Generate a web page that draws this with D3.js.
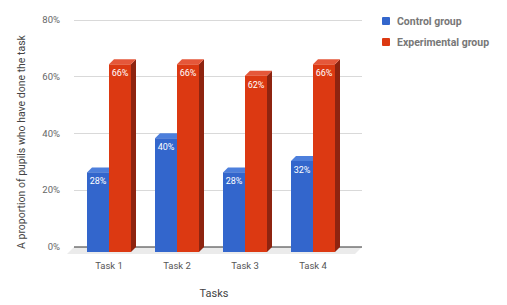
<!DOCTYPE html>
<meta charset="utf-8">
<style>
body { margin: 0; background: #fff; }
text { font-family: Roboto, "Noto Sans", sans-serif; }
.grid { stroke: #d9d9d9; stroke-width: 1px; }
.tick-y { fill: #666; font-size: 9.5px; }
.tick-x { fill: #555; font-size: 9.5px; }
.val { fill: #fff; font-size: 9px; }
.legend { fill: #777; font-size: 10.5px; font-weight: bold; }
.title { fill: #444; font-size: 11px; }
.ytitle { fill: #444; font-size: 10.5px; }
</style>
<body>
<script src="https://cdn.jsdelivr.net/npm/d3@7/dist/d3.min.js"></script>
<script>

var width = 507,
    height = 305;

var tasks = ["Task 1", "Task 2", "Task 3", "Task 4"];
var groups = ["Control group", "Experimental group"];
var control = [0.28, 0.40, 0.28, 0.32];
var experimental = [0.66, 0.66, 0.62, 0.66];
var yTicks = [0, 0.2, 0.4, 0.6, 0.8];

var colors = {
  "Control group": {front: "#3366cc", top: "#4d7fdc", side: "#264d99"},
  "Experimental group": {front: "#dc3912", top: "#e5573a", side: "#8e2410"}
};

// depth of the fake 3d bars (front face is shifted down-left of the back plane)
var dx = 5, dy = 5;

var svg = d3.select("body").append("svg")
    .attr("width", width)
    .attr("height", height);

// y on the back plane
var y = d3.scaleLinear()
    .domain([0, 0.8])
    .range([247, 19.5]);

// x of the front face
var x = d3.scaleBand()
    .domain(tasks)
    .range([75, 347]);

var xInner = d3.scaleBand()
    .domain(groups)
    .range([12, 56]);

// floor
svg.append("path")
    .attr("d", "M74,247 L362,247 L355,254 L67,254 Z")
    .attr("fill", "#ebebeb");

// gridlines
svg.selectAll(".grid")
    .data(yTicks.filter(function(d) { return d > 0; }))
  .enter().append("line")
    .attr("class", "grid")
    .attr("x1", 74)
    .attr("x2", 362)
    .attr("y1", function(d) { return Math.round(y(d)) + 0.5; })
    .attr("y2", function(d) { return Math.round(y(d)) + 0.5; });

svg.append("line")
    .attr("x1", 74).attr("x2", 362)
    .attr("y1", y(0)).attr("y2", y(0))
    .attr("stroke", "#333")
    .attr("stroke-width", 1.2);

svg.selectAll(".tick-y")
    .data(yTicks)
  .enter().append("text")
    .attr("class", "tick-y")
    .attr("x", 60)
    .attr("y", function(d) { return y(d); })
    .attr("dy", "0.35em")
    .attr("text-anchor", "end")
    .text(d3.format(".0%"));

var rows = [];
tasks.forEach(function(t, i) {
  rows.push({task: t, group: groups[0], value: control[i]});
  rows.push({task: t, group: groups[1], value: experimental[i]});
});

var bar = svg.selectAll(".bar")
    .data(rows)
  .enter().append("g")
    .attr("class", "bar");

bar.each(function(d) {
  var g = d3.select(this),
      x0 = x(d.task) + xInner(d.group),
      x1 = x0 + xInner.bandwidth(),
      yt = y(d.value) + dy,
      yb = y(0) + dy,
      c = colors[d.group];

  g.append("path")
      .attr("fill", c.side)
      .attr("d", "M" + x1 + "," + yt + "L" + (x1 + dx) + "," + (yt - dy) +
          "L" + (x1 + dx) + "," + (yb - dy) + "L" + x1 + "," + yb + "Z");
  g.append("path")
      .attr("fill", c.top)
      .attr("d", "M" + x0 + "," + yt + "L" + (x0 + dx) + "," + (yt - dy) +
          "L" + (x1 + dx) + "," + (yt - dy) + "L" + x1 + "," + yt + "Z");
  g.append("rect")
      .attr("fill", c.front)
      .attr("x", x0)
      .attr("y", yt)
      .attr("width", x1 - x0)
      .attr("height", yb - yt);
  g.append("text")
      .attr("class", "val")
      .attr("x", (x0 + x1) / 2)
      .attr("y", yt + 12)
      .attr("text-anchor", "middle")
      .text(d3.format(".0%")(d.value));
});

svg.selectAll(".tick-x")
    .data(tasks)
  .enter().append("text")
    .attr("class", "tick-x")
    .attr("x", function(d) { return x(d) + x.bandwidth() / 2; })
    .attr("y", 266)
    .attr("dy", "0.35em")
    .attr("text-anchor", "middle")
    .text(function(d) { return d; });

svg.append("text")
    .attr("class", "title")
    .attr("x", 214)
    .attr("y", 293)
    .attr("dy", "0.35em")
    .attr("text-anchor", "middle")
    .text("Tasks");

svg.append("text")
    .attr("class", "ytitle")
    .attr("transform", "translate(21,142) rotate(-90)")
    .attr("dy", "0.35em")
    .attr("text-anchor", "middle")
    .text("A proportion of pupils who have done the task");

var legend = svg.selectAll(".leg")
    .data(groups)
  .enter().append("g")
    .attr("transform", function(d, i) { return "translate(382," + (17 + i * 21) + ")"; });

legend.append("rect")
    .attr("width", 8)
    .attr("height", 8)
    .attr("rx", 1)
    .attr("fill", function(d) { return colors[d].front; });

legend.append("text")
    .attr("class", "legend")
    .attr("x", 15)
    .attr("y", 4)
    .attr("dy", "0.35em")
    .text(function(d) { return d; });

</script>
